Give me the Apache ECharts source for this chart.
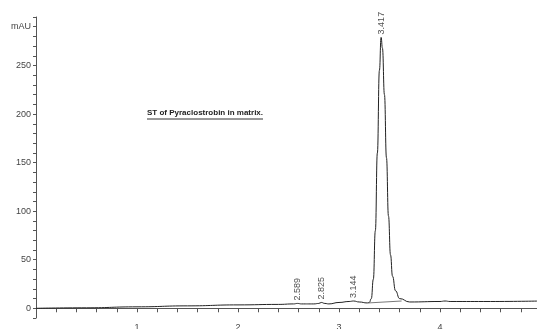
<!DOCTYPE html>
<html>
<head>
<meta charset="utf-8">
<script src="https://cdn.jsdelivr.net/npm/echarts@6/dist/echarts.min.js"></script>
<style>
  html, body { margin: 0; padding: 0; background: #fff; }
  #chart { width: 537px; height: 329px; }
</style>
</head>
<body>
<div id="chart"></div>
<script>
// chromatogram trace (min, mAU)
const traceTimes = [0, 0.5, 1.0, 1.5, 2.0, 2.4, 2.55, 2.589, 2.63, 2.75, 2.8, 2.825, 2.86, 2.9, 3.0, 3.1, 3.144, 3.2, 3.28,
  3.30, 3.32, 3.34, 3.36, 3.38, 3.40, 3.417, 3.43, 3.45, 3.47, 3.49, 3.51, 3.53, 3.56, 3.60, 3.7, 4.0, 4.05, 4.1, 4.5, 5.0];
const traceValues = [0, 0.5, 1.5, 2.5, 3.5, 4, 4.5, 5, 4.5, 4.5, 5, 6, 5, 4.5, 6, 7, 7.5, 6.5, 5.5,
  6, 10, 30, 80, 160, 245, 279, 268, 220, 155, 95, 55, 33, 18, 10, 6.5, 7, 7.5, 7, 7, 7.5];

// integration baseline under the main peak
const baseTimes = [3.29, 3.62];
const baseValues = [5.5, 7.5];

// peak apex annotations
const peakTimes = [2.589, 2.825, 3.144, 3.417];
const peakHeights = [5, 6, 7.5, 279];
const peakLabels = ['2.589', '2.825', '3.144', '3.417'];

const titleText = 'ST of Pyraclostrobin in matrix.';

const chart = echarts.init(document.getElementById('chart'));

const lineColor = '#222';
const axisColor = '#555';
const labelColor = '#444';

chart.setOption({
  animation: false,
  backgroundColor: '#fff',
  title: {
    text: titleText,
    left: 147,
    top: 109,
    padding: 0,
    textStyle: {
      fontFamily: 'Arial, sans-serif',
      fontSize: 8,
      fontWeight: 'bold',
      color: '#222'
    }
  },
  graphic: [{
    type: 'line',
    shape: { x1: 147, y1: 119, x2: 263, y2: 119 },
    style: { stroke: '#333', lineWidth: 1 }
  }],
  grid: {
    left: 36,
    top: 17,
    width: 505,
    height: 301,
    outerBoundsMode: 'none'
  },
  xAxis: {
    type: 'value',
    min: 0,
    max: 5,
    interval: 0.2,
    axisLine: { lineStyle: { color: axisColor, width: 1 } },
    axisTick: { length: 4, lineStyle: { color: axisColor } },
    splitLine: { show: false },
    axisLabel: {
      color: labelColor,
      fontSize: 9,
      margin: 5,
      showMaxLabel: true,
      formatter: (v) => {
        const r = Math.round(v);
        return (Math.abs(v - r) < 1e-6 && r > 0) ? String(r) : '';
      }
    }
  },
  yAxis: {
    type: 'value',
    min: -10,
    max: 300,
    interval: 10,
    axisLine: { show: true, lineStyle: { color: axisColor, width: 1 } },
    axisTick: { length: 3, lineStyle: { color: axisColor } },
    splitLine: { show: false },
    axisLabel: {
      color: labelColor,
      fontSize: 9,
      margin: 5,
      formatter: (v) => {
        if (v === 290) return 'mAU';
        if (v % 50 === 0 && v < 300) return String(v);
        return '';
      }
    }
  },
  series: [
    {
      name: 'signal',
      type: 'line',
      data: traceTimes.map((t, i) => [t, traceValues[i]]),
      smooth: true,
      smoothMonotone: 'x',
      symbol: 'none',
      lineStyle: { color: lineColor, width: 1 }
    },
    {
      name: 'baseline',
      type: 'line',
      data: baseTimes.map((t, i) => [t, baseValues[i]]),
      symbol: 'none',
      lineStyle: { color: '#555', width: 0.8 }
    },
    {
      name: 'peaks',
      type: 'scatter',
      data: peakTimes.map((t, i) => [t, peakHeights[i]]),
      symbolSize: 0,
      label: {
        show: true,
        position: 'top',
        distance: 3,
        rotate: 90,
        align: 'left',
        verticalAlign: 'middle',
        color: '#222',
        fontSize: 9,
        formatter: (p) => peakLabels[p.dataIndex]
      }
    }
  ]
});
</script>
</body>
</html>
